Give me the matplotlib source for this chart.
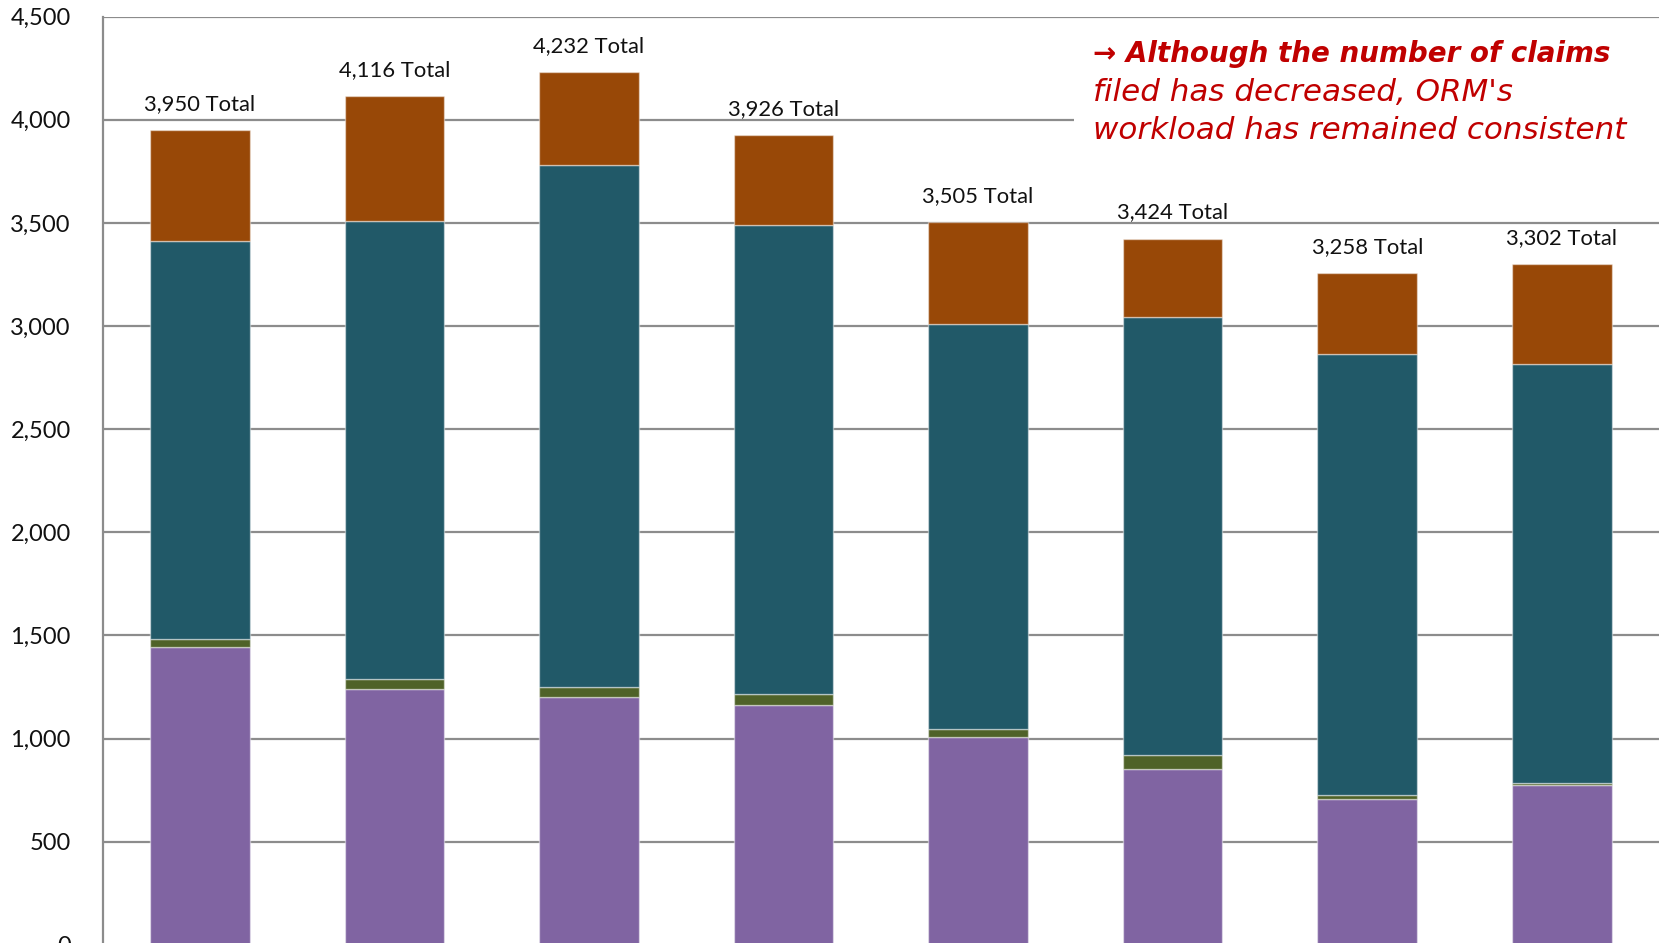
import numpy as np
import matplotlib
matplotlib.use("Agg")
import matplotlib.pyplot as plt
from matplotlib.patches import Rectangle

# values (claims per year, stacked)
totals = [3950, 4116, 4232, 3926, 3505, 3424, 3258, 3302]
purple_vals = [1442, 1239, 1200, 1164, 1008, 851, 705, 773]
green_vals = [39, 48, 48, 50, 37, 68, 20, 10]
teal_vals = [1933, 2221, 2531, 2276, 1963, 2126, 2138, 2032]
orange_vals = [t - p - g - c for t, p, g, c in zip(totals, purple_vals, green_vals, teal_vals)]
yticks = [0, 500, 1000, 1500, 2000, 2500, 3000, 3500, 4000, 4500]

colors = ["#8064A2", "#4F6228", "#215968", "#984807"]

plt.rcParams['font.family'] = ['Lato', 'DejaVu Sans']

fig = plt.figure(figsize=(16.59, 9.43), dpi=100)
ax = fig.add_axes([102.7 / 1659, -1.8 / 943, 1556.3 / 1659, 928.1 / 943])

x = np.arange(len(totals))
width = 0.512
bottom = np.zeros(len(totals))
for vals, col in zip([purple_vals, green_vals, teal_vals, orange_vals], colors):
    ax.bar(x, vals, width, bottom=bottom, color=col,
           edgecolor=(1, 1, 1, 0.45), linewidth=1.0, zorder=2)
    bottom += np.array(vals)

# total labels above each bar
for xi, t in zip(x, totals):
    ax.annotate(f"{t:,} Total", (xi, t), xytext=(0, 14.5), textcoords='offset points',
                ha='center', va='baseline', fontsize=15.8, color='#111111', zorder=5)

ax.set_xlim(-0.5, 7.5)
ax.set_ylim(0, 4500)
ax.set_yticks(yticks)
ax.set_yticklabels([f"{v:,}" for v in yticks], fontsize=17, color='#111111')
ax.tick_params(axis='y', length=0, pad=23)
ax.set_xticks([])

ax.set_axisbelow(True)
ax.grid(axis='y', color='#8C8C8C', linewidth=1.6, zorder=0.5)
for s in ['top', 'right', 'bottom']:
    ax.spines[s].set_visible(False)
ax.spines['left'].set_color('#8C8C8C')
ax.spines['left'].set_linewidth(1.6)

# white box behind the note (hides the 4,000 gridline there)
ax.add_patch(Rectangle((0.624, 0.8456), 0.4, 0.1487, transform=ax.transAxes,
                       facecolor='white', edgecolor='none', zorder=1, clip_on=False))

red = '#C00000'
ax.text(0.6363, 0.9507, "\u2192 Although the number of claims", transform=ax.transAxes,
        fontsize=20, color=red, style='italic', fontweight='bold', ha='left',
        va='baseline', family=['DejaVu Sans'], zorder=6)
ax.text(0.6363, 0.9092, "filed has decreased, ORM's", transform=ax.transAxes,
        fontsize=22.3, color=red, style='italic', ha='left', va='baseline',
        family=['DejaVu Sans'], zorder=6)
ax.text(0.6363, 0.8677, "workload has remained consistent", transform=ax.transAxes,
        fontsize=22.3, color=red, style='italic', ha='left', va='baseline',
        family=['DejaVu Sans'], zorder=6)

fig.savefig("out.png", dpi=100)
